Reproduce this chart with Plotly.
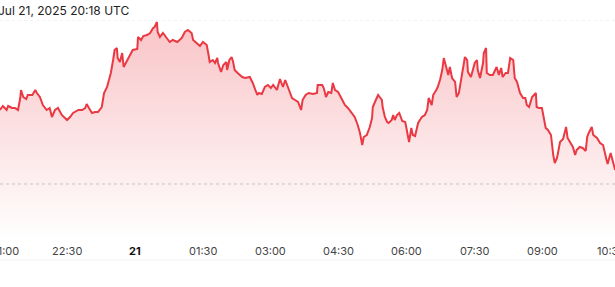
import pandas as pd
import plotly.graph_objects as go

# minutes after 2025-07-20 21:00 UTC
minutes = [1, 5, 10, 12, 17, 21, 25, 28, 29, 32, 36, 38, 44, 48, 50, 54, 58, 63, 67, 70,
           74, 78, 83, 87, 90, 94, 98, 105, 110, 114, 116, 119, 123, 127, 131, 136, 139, 143, 146, 148,
           151, 153, 156, 157, 160, 163, 165, 168, 171, 175, 177, 183, 184, 188, 191, 196, 200, 204, 206, 209,
           210, 213, 217, 222, 226, 230, 236, 242, 246, 250, 255, 257, 262, 266, 270, 275, 277, 279, 283, 286,
           289, 290, 294, 297, 301, 302, 305, 308, 310, 312, 316, 322, 326, 332, 336, 339, 342, 344, 348, 352,
           356, 360, 363, 368, 372, 376, 379, 383, 388, 392, 396, 400, 402, 406, 410, 416, 421, 422, 428, 430,
           433, 436, 440, 442, 445, 449, 454, 458, 462, 467, 471, 475, 478, 481, 483, 487, 491, 494, 495, 499,
           502, 505, 507, 508, 511, 514, 516, 520, 522, 524, 527, 530, 531, 534, 538, 540, 543, 546, 548, 551,
           555, 560, 564, 567, 569, 573, 575, 579, 581, 584, 587, 589, 592, 595, 597, 600, 604, 606, 609, 613,
           614, 617, 620, 621, 625, 628, 630, 633, 634, 637, 641, 642, 645, 646, 650, 654, 659, 662, 665, 667,
           671, 674, 677, 681, 683, 686, 690, 694, 697, 699, 702, 706, 708, 711, 712, 715, 719, 722, 724, 727,
           731, 734, 736, 739, 743, 747, 751, 753, 757, 760, 763, 765, 769, 773, 777, 779, 781, 785, 787, 792,
           796, 800, 804, 806, 810, 813, 816]

# price level (relative units)
values = [130, 134, 130, 134, 132, 132, 130, 142, 150, 143, 141, 145, 145, 150, 147, 143, 135, 130, 132, 123,
          130, 132, 125, 122, 120, 123, 127, 130, 130, 132, 136, 132, 127, 128, 128, 133, 147, 153, 160, 167,
          180, 190, 192, 182, 178, 187, 173, 177, 182, 187, 190, 191, 203, 200, 204, 205, 207, 212, 213, 218,
          208, 203, 207, 202, 198, 200, 198, 202, 208, 210, 207, 200, 197, 194, 198, 195, 187, 178, 180, 177,
          182, 177, 168, 175, 178, 170, 180, 183, 178, 170, 167, 163, 162, 163, 157, 150, 145, 147, 146, 153,
          155, 152, 155, 150, 161, 153, 160, 152, 142, 140, 138, 130, 140, 145, 147, 146, 147, 155, 155, 152,
          143, 148, 147, 157, 150, 148, 140, 135, 132, 127, 123, 115, 107, 95, 103, 105, 113, 122, 133, 140,
          145, 142, 140, 133, 123, 118, 117, 120, 125, 120, 125, 127, 125, 119, 118, 110, 98, 112, 105, 104,
          117, 123, 125, 130, 142, 135, 145, 150, 153, 160, 170, 182, 173, 165, 173, 162, 158, 143, 147, 167,
          170, 183, 180, 168, 163, 172, 177, 180, 170, 162, 177, 187, 192, 167, 165, 165, 173, 165, 172, 163,
          167, 167, 182, 180, 162, 158, 147, 142, 142, 135, 133, 143, 145, 147, 133, 132, 132, 122, 112, 110,
          105, 85, 77, 82, 98, 101, 113, 102, 97, 93, 85, 90, 93, 92, 89, 103, 107, 113, 105, 102,
          97, 95, 82, 76, 87, 77, 70]

tick_vals = ["2025-07-20 21:00", "2025-07-20 22:30", "2025-07-21 00:00", "2025-07-21 01:30",
             "2025-07-21 03:00", "2025-07-21 04:30", "2025-07-21 06:00", "2025-07-21 07:30",
             "2025-07-21 09:00", "2025-07-21 10:30"]
tick_text = ["21:00", "22:30", "<b>21</b>", "01:30", "03:00", "04:30",
             "06:00", "07:30", "09:00", "10:30"]

title_text = "Jul 21, 2025 20:18 UTC"
ref_level = 56
top_grid = 220
x_range = ["2025-07-20 21:01:11", "2025-07-21 10:35:48"]

base = pd.Timestamp("2025-07-20 21:00")
times = [base + pd.Timedelta(minutes=m) for m in minutes]

RED = "#ea3943"
FONT = "Inter, Roboto, sans-serif"

fig = go.Figure()
fig.add_trace(go.Scatter(
    x=times, y=values, mode="lines",
    line=dict(color=RED, width=2),
    fill="tozeroy",
    fillgradient=dict(type="vertical", start=0, stop=top_grid,
                      colorscale=[[0, "rgba(234,57,67,0)"], [1, "rgba(234,57,67,0.30)"]]),
    hoverinfo="skip", showlegend=False,
))

fig.add_shape(type="line", xref="paper", yref="y", x0=0, x1=1, y0=ref_level, y1=ref_level,
              line=dict(color="#c4c4c4", width=1, dash="dot"), layer="above")
fig.add_shape(type="line", xref="paper", yref="y", x0=0, x1=1, y0=top_grid, y1=top_grid,
              line=dict(color="#e6e6e6", width=1, dash="dot"), layer="below")
fig.add_shape(type="line", xref="paper", yref="paper", x0=0, x1=1, y0=-0.091, y1=-0.091,
              line=dict(color="#f0f0f0", width=1))

fig.add_annotation(text=title_text, xref="paper", yref="paper", x=-4 / 615, y=1 + 9 / 220,
                   xanchor="left", yanchor="middle", showarrow=False,
                   font=dict(family=FONT, size=12, color="#222"))

# tick labels as annotations (paper coords so edge labels are clipped like the original)
t0, t1 = pd.Timestamp(x_range[0]), pd.Timestamp(x_range[1])
for i, (tv, tt) in enumerate(zip(tick_vals, tick_text)):
    frac = (pd.Timestamp(tv) - t0) / (t1 - t0)
    bold = tt.startswith("<b>")
    fig.add_annotation(text=tt, x=frac, xref="paper", yref="paper", y=-11 / 220,
                       xanchor="center", yanchor="middle", showarrow=False,
                       xshift=6 if i == 0 else 0,
                       font=dict(family=FONT, size=11, color="#111" if bold else "#444"))

fig.update_layout(
    width=615, height=287, autosize=False,
    margin=dict(l=0, r=0, t=20, b=47),
    paper_bgcolor="white", plot_bgcolor="white",
    xaxis=dict(
        type="date", range=x_range, showticklabels=False,
        showgrid=False, zeroline=False, showline=False, ticks="",
    ),
    yaxis=dict(range=[0, top_grid], visible=False, showgrid=False, zeroline=False),
)

fig.write_html("out.html")
